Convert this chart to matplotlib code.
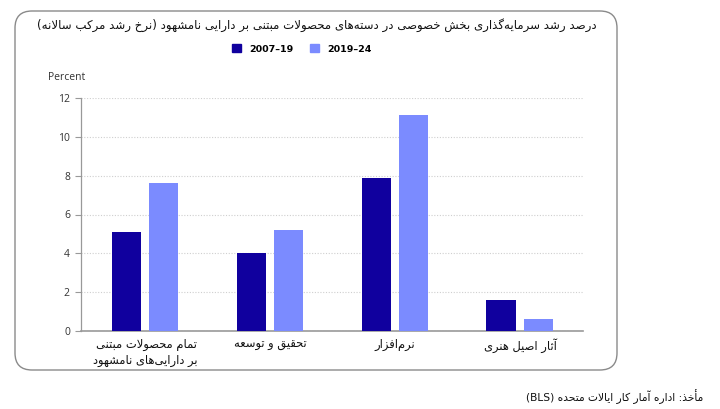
import numpy as np
import matplotlib.pyplot as plt
from matplotlib.patches import FancyBboxPatch, Patch

# داده‌ها
categories = ["تمام محصولات مبتنی\nبر دارایی‌های نامشهود", "تحقیق و توسعه", "نرم‌افزار", "آثار اصیل هنری"]
v_2007_19 = [5.1, 4.0, 7.9, 1.6]
v_2019_24 = [7.6, 5.2, 11.1, 0.6]
series_labels = ["2007–19", "2019–24"]
title = "درصد رشد سرمایه‌گذاری بخش خصوصی در دسته‌های محصولات مبتنی بر دارایی نامشهود (نرخ رشد مرکب سالانه)"
source = "مأخذ: اداره آمار کار ایالات متحده (BLS)"

# ----------------------
# شکل‌دهی حروف فارسی (matplotlib خودش این کار را نمی‌کند)
# ----------------------
def _r(*codes):
    return tuple(chr(c) for c in codes)

FORMS = {
    'آ': _r(0xFE81, 0xFE82), 'أ': _r(0xFE83, 0xFE84), 'ا': _r(0xFE8D, 0xFE8E),
    'د': _r(0xFEA9, 0xFEAA), 'ذ': _r(0xFEAB, 0xFEAC), 'ر': _r(0xFEAD, 0xFEAE),
    'ز': _r(0xFEAF, 0xFEB0), 'ژ': _r(0xFB8A, 0xFB8B), 'و': _r(0xFEED, 0xFEEE),
    'ة': _r(0xFE93, 0xFE94),
    'ب': _r(0xFE8F, 0xFE90, 0xFE91, 0xFE92), 'پ': _r(0xFB56, 0xFB57, 0xFB58, 0xFB59),
    'ت': _r(0xFE95, 0xFE96, 0xFE97, 0xFE98), 'ث': _r(0xFE99, 0xFE9A, 0xFE9B, 0xFE9C),
    'ج': _r(0xFE9D, 0xFE9E, 0xFE9F, 0xFEA0), 'چ': _r(0xFB7A, 0xFB7B, 0xFB7C, 0xFB7D),
    'ح': _r(0xFEA1, 0xFEA2, 0xFEA3, 0xFEA4), 'خ': _r(0xFEA5, 0xFEA6, 0xFEA7, 0xFEA8),
    'س': _r(0xFEB1, 0xFEB2, 0xFEB3, 0xFEB4), 'ش': _r(0xFEB5, 0xFEB6, 0xFEB7, 0xFEB8),
    'ص': _r(0xFEB9, 0xFEBA, 0xFEBB, 0xFEBC), 'ض': _r(0xFEBD, 0xFEBE, 0xFEBF, 0xFEC0),
    'ط': _r(0xFEC1, 0xFEC2, 0xFEC3, 0xFEC4), 'ظ': _r(0xFEC5, 0xFEC6, 0xFEC7, 0xFEC8),
    'ع': _r(0xFEC9, 0xFECA, 0xFECB, 0xFECC), 'غ': _r(0xFECD, 0xFECE, 0xFECF, 0xFED0),
    'ف': _r(0xFED1, 0xFED2, 0xFED3, 0xFED4), 'ق': _r(0xFED5, 0xFED6, 0xFED7, 0xFED8),
    'ک': _r(0xFB8E, 0xFB8F, 0xFB90, 0xFB91), 'گ': _r(0xFB92, 0xFB93, 0xFB94, 0xFB95),
    'ل': _r(0xFEDD, 0xFEDE, 0xFEDF, 0xFEE0), 'م': _r(0xFEE1, 0xFEE2, 0xFEE3, 0xFEE4),
    'ن': _r(0xFEE5, 0xFEE6, 0xFEE7, 0xFEE8), 'ه': _r(0xFEE9, 0xFEEA, 0xFEEB, 0xFEEC),
    'ی': _r(0xFBFC, 0xFBFD, 0xFBFE, 0xFBFF), 'ي': _r(0xFEF1, 0xFEF2, 0xFEF3, 0xFEF4),
}
LAM_ALEF = {'ا': _r(0xFEFB, 0xFEFC), 'آ': _r(0xFEF5, 0xFEF6), 'أ': _r(0xFEF7, 0xFEF8)}


def shape_line(text):
    out = []
    n = len(text)
    i = 0
    while i < n:
        c = text[i]
        if c not in FORMS:
            out.append(c)
            i += 1
            continue
        prev = text[i - 1] if i > 0 else None
        nxt = text[i + 1] if i + 1 < n else None
        jp = prev in FORMS and len(FORMS[prev]) == 4
        if c == 'ل' and nxt in LAM_ALEF:
            iso, fin = LAM_ALEF[nxt]
            out.append(fin if jp else iso)
            i += 2
            continue
        f = FORMS[c]
        jn = len(f) == 4 and nxt in FORMS
        if jp and jn:
            g = f[3]
        elif jp:
            g = f[1]
        elif jn:
            g = f[2]
        else:
            g = f[0]
        out.append(g)
        i += 1
    s = ''.join(out).replace('\u200c', '')
    s = s[::-1]
    s = s.translate(str.maketrans('()', ')('))
    # متن لاتین را دوباره برگردان
    res, run = [], []
    for ch in s:
        if ch.isascii() and ch.isalnum():
            run.append(ch)
        else:
            res.extend(run[::-1]); run = []
            res.append(ch)
    res.extend(run[::-1])
    return ''.join(res)


def fa(text):
    return '\n'.join(shape_line(t) for t in text.split('\n'))


# ----------------------
# رسم
# ----------------------
dark = "#10009E"
light = "#7B8BFF"

fig = plt.figure(figsize=(7.2, 4.09), dpi=100)
ax = fig.add_axes([81 / 720, 78 / 409, 502 / 720, 233 / 409])

card = FancyBboxPatch((0.15, 0.39), 6.02, 3.59, boxstyle="round,pad=0,rounding_size=0.17",
                      transform=fig.dpi_scale_trans, facecolor="white", edgecolor="#8a8a8a",
                      linewidth=1.0, zorder=-10)
fig.patches.append(card)

x = np.arange(len(categories))
w = 0.232
ax.bar(x - 0.152, v_2007_19, width=w, color=dark, label=series_labels[0], zorder=3)
ax.bar(x + 0.148, v_2019_24, width=w, color=light, label=series_labels[1], zorder=3)

ax.set_xlim(-0.512, 3.504)
ax.set_ylim(0, 12)
ax.set_yticks(range(0, 13, 2))
ax.set_xticks(x)
ax.set_xticklabels([fa(c) for c in categories], fontsize=8.3, family="DejaVu Sans",
                   multialignment="right", color="#111111", linespacing=1.25)
ax.tick_params(axis="x", length=0, pad=5)
ax.tick_params(axis="y", length=4, width=0.8, color="#999999", labelsize=7.5,
               labelcolor="#333333", pad=4)
for t in ax.get_yticklabels():
    t.set_family("Open Sans")
ax.grid(axis="y", linestyle=(0, (1, 1.5)), color="#cfcfcf", linewidth=0.8, zorder=0)
for s in ["top", "right"]:
    ax.spines[s].set_visible(False)
ax.spines["left"].set_color("#999999")
ax.spines["bottom"].set_color("#999999")
ax.spines["left"].set_linewidth(0.9)
ax.spines["bottom"].set_linewidth(1.2)

fig.text(317 / 720, (409 - 25) / 409, fa(title), ha="center", va="center",
         fontsize=8.5, family="DejaVu Sans", color="#111111")
fig.text(48 / 720, (409 - 77) / 409, "Percent", ha="left", va="center",
         fontsize=7.5, family="Open Sans", color="#333333")

handles = [Patch(color=dark), Patch(color=light)]
fig.legend(handles, series_labels, loc="center", bbox_to_anchor=(302 / 720, (409 - 49) / 409),
           ncol=2, frameon=False, handlelength=0.9, handleheight=0.9, handletextpad=0.9,
           columnspacing=1.8, prop={"family": "DejaVu Sans", "size": 6.8, "weight": "bold"})

fig.text(703 / 720, (409 - 397) / 409, fa(source), ha="right", va="center",
         fontsize=7.7, family="DejaVu Sans", color="#111111")

fig.savefig("out.png", dpi=100)
